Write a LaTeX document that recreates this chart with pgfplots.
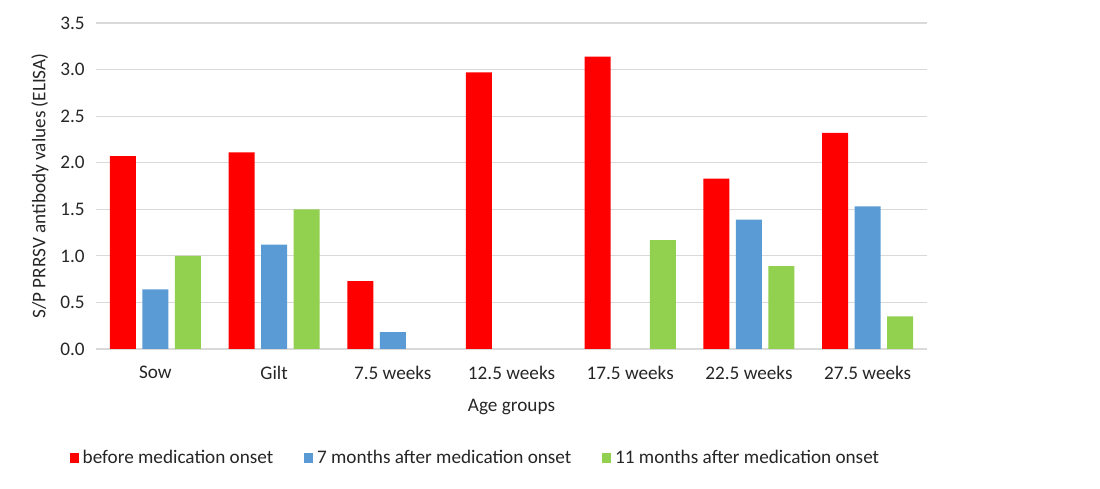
\documentclass[border=0pt]{standalone}
\usepackage{fontspec}
\setmainfont{Carlito}
\usepackage{pgfplots}
\pgfplotsset{compat=1.18}

\definecolor{cred}{HTML}{FF0000}
\definecolor{cblue}{HTML}{5B9BD5}
\definecolor{cgreen}{HTML}{92D050}
\definecolor{cgrid}{HTML}{D9D9D9}

\begin{document}
\begin{tikzpicture}
% 1 px of the reference = 0.75pt
\path[use as bounding box] (0pt,0pt) rectangle (825pt,366.75pt);
\begin{axis}[
    at={(72pt,105pt)}, anchor=south west,
    scale only axis,
    width=623.25pt, height=244.5pt,
    ybar, bar width=19.5pt,
    xmin=-0.5, xmax=6.5,
    ymin=0, ymax=3.5,
    ytick={0,0.5,...,3.5},
    xtick={0,...,6},
    xticklabels={Sow,Gilt,7.5 weeks,12.5 weeks,17.5 weeks,22.5 weeks,27.5 weeks},
    yticklabel style={xshift=-5pt, /pgf/number format/fixed, /pgf/number format/fixed zerofill,
        /pgf/number format/precision=1, /pgf/number format/assume math mode=true},
    ymajorgrids, grid style={cgrid, line width=0.8pt},
    axis x line*=bottom, axis y line*=left,
    x axis line style={cgrid, line width=0.8pt, -},
    y axis line style={draw=none},
    major tick length=0pt,
    tick label style={font=\fontsize{14.4}{16}\selectfont, text=black!85},
    xticklabel style={yshift=-9pt},
    xlabel={Age groups}, ylabel={S/P PRRSV antibody values (ELISA)},
    label style={font=\fontsize{14.4}{16}\selectfont, text=black!85},
    xlabel style={yshift=-8pt},
    ylabel style={at={(axis description cs:-0.0674,0.5)}, anchor=center, rotate=0},
    legend style={at={(0.457,-0.334)}, anchor=center, draw=none, legend columns=3,
        font=\fontsize{14.4}{16}\selectfont, text=black!85,
        /tikz/every odd column/.append style={column sep=1pt},
        /tikz/every even column/.append style={column sep=21pt}},
    legend image code/.code={\fill[#1] (0pt,-3.8pt) rectangle (6.8pt,3.8pt);},
]
\addplot[fill=cred, draw=none, bar shift=-24.4pt] coordinates {
    (0,2.07) (1,2.11) (2,0.73) (3,2.97) (4,3.14) (5,1.83) (6,2.32)};
\addplot[fill=cblue, draw=none, bar shift=0pt] coordinates {
    (0,0.64) (1,1.12) (2,0.18) (5,1.39) (6,1.53)};
\addplot[fill=cgreen, draw=none, bar shift=24.4pt] coordinates {
    (0,1.00) (1,1.50) (4,1.17) (5,0.89) (6,0.35)};
\legend{before medication onset, 7 months after medication onset, 11 months after medication onset}
\end{axis}
\end{tikzpicture}
\end{document}
